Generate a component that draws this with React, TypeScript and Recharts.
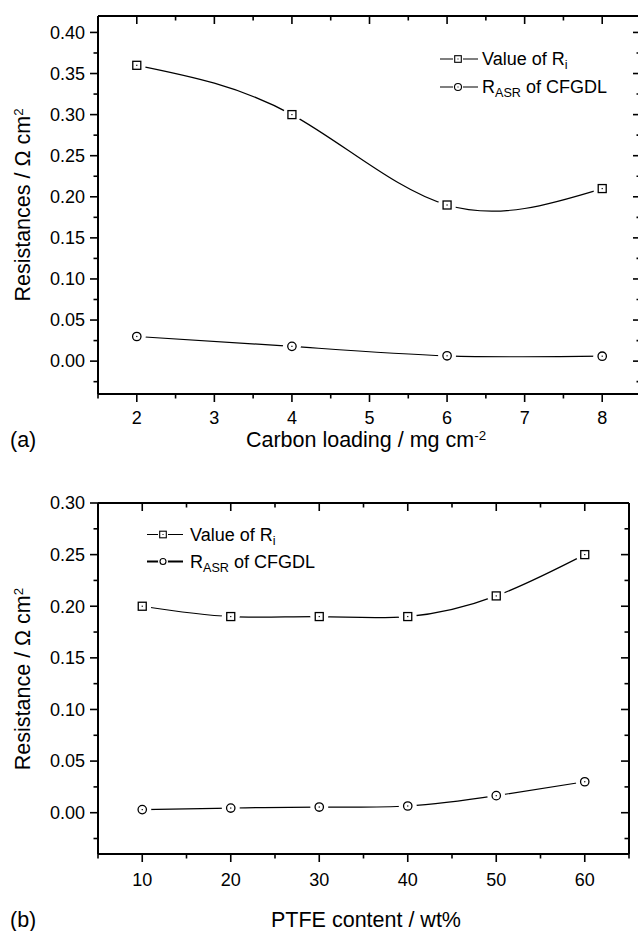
import React from 'react';
import { LineChart, Line, XAxis, YAxis, Legend } from 'recharts';

const FONT = '"Liberation Sans", Arial, Helvetica, sans-serif';

// ---------- (a) carbon loading ----------
const carbonLoading = [2, 4, 6, 8];
const riByLoading = [0.36, 0.3, 0.19, 0.21];
const rasrByLoading = [0.03, 0.018, 0.0065, 0.006];

const loadingTicks = [1.5, 2, 2.5, 3, 3.5, 4, 4.5, 5, 5.5, 6, 6.5, 7, 7.5, 8, 8.5];
const loadingMajor = [2, 3, 4, 5, 6, 7, 8];
const resATicks = [-0.025, 0, 0.025, 0.05, 0.075, 0.1, 0.125, 0.15, 0.175, 0.2, 0.225, 0.25, 0.275, 0.3, 0.325, 0.35, 0.375, 0.4];
const resAMajor = [0, 0.05, 0.1, 0.15, 0.2, 0.25, 0.3, 0.35, 0.4];

// ---------- (b) PTFE content ----------
const ptfeContent = [10, 20, 30, 40, 50, 60];
const riByPtfe = [0.2, 0.19, 0.19, 0.19, 0.21, 0.25];
const rasrByPtfe = [0.003, 0.0045, 0.0055, 0.0065, 0.0165, 0.03];

const ptfeTicks = [5, 10, 15, 20, 25, 30, 35, 40, 45, 50, 55, 60, 65];
const ptfeMajor = [10, 20, 30, 40, 50, 60];
const resBTicks = [-0.025, 0, 0.025, 0.05, 0.075, 0.1, 0.125, 0.15, 0.175, 0.2, 0.225, 0.25, 0.275, 0.3];
const resBMajor = [0, 0.05, 0.1, 0.15, 0.2, 0.25, 0.3];

const dataA = carbonLoading.map((x, i) => ({ x, ri: riByLoading[i], rasr: rasrByLoading[i] }));
const dataB = ptfeContent.map((x, i) => ({ x, ri: riByPtfe[i], rasr: rasrByPtfe[i] }));

type Side = 'bottom' | 'top' | 'left' | 'right';

function makeTick(side: Side, majors: number[], fmt: ((v: number) => string) | null, labelGap = 25) {
  return function Tick(props: any) {
    const { x, y, payload } = props;
    const v = Number(payload.value);
    const isMajor = majors.some((m) => Math.abs(m - v) < 1e-9);
    const len = isMajor ? 8 : 4.5;
    let line: any = null;
    let label: any = null;
    const ts = { fontFamily: FONT, fontSize: 18, fill: '#000' };
    if (side === 'bottom') {
      line = <line x1={x} x2={x} y1={y} y2={y + len} />;
      if (fmt && isMajor)
        label = (
          <text x={x} y={y + labelGap} dy="0.35em" textAnchor="middle" style={ts}>
            {fmt(v)}
          </text>
        );
    } else if (side === 'top') {
      line = <line x1={x} x2={x} y1={y} y2={y + len} />;
    } else if (side === 'left') {
      line = <line x1={x - len} x2={x} y1={y} y2={y} />;
      if (fmt && isMajor)
        label = (
          <text x={x - 13} y={y} dy="0.35em" textAnchor="end" style={ts}>
            {fmt(v)}
          </text>
        );
    } else {
      line = <line x1={x - len} x2={x} y1={y} y2={y} />;
    }
    return (
      <g>
        <g stroke="#000" strokeWidth={1.6}>{line}</g>
        {label}
      </g>
    );
  };
}

const fmtInt = (v: number) => String(Math.round(v));
const fmt2 = (v: number) => v.toFixed(2);

const SquareDot = (props: any) => {
  const { cx, cy } = props;
  if (cx == null || cy == null) return null;
  return (
    <g>
      <circle cx={cx} cy={cy} r={9} fill="#fff" />
      <rect x={cx - 4} y={cy - 4} width={8} height={8} fill="#fff" stroke="#000" strokeWidth={1.3} />
      <rect x={cx - 0.6} y={cy - 0.6} width={1.2} height={1.2} fill="#000" />
    </g>
  );
};

const CircleDot = (props: any) => {
  const { cx, cy } = props;
  if (cx == null || cy == null) return null;
  return (
    <g>
      <circle cx={cx} cy={cy} r={9} fill="#fff" />
      <circle cx={cx} cy={cy} r={4.2} fill="#fff" stroke="#000" strokeWidth={1.3} />
      <rect x={cx - 0.6} y={cy - 0.6} width={1.2} height={1.2} fill="#000" />
    </g>
  );
};

type LegendRow = { shape: 'square' | 'circle'; label: any; bold?: boolean; plainCircle?: boolean };

const subStyle: React.CSSProperties = { fontSize: '0.7em', verticalAlign: '-0.35em', lineHeight: 0, color: '#000' };

const rowsA: LegendRow[] = [
  { shape: 'square', label: <>Value of R<sub style={subStyle}>i</sub></> },
  { shape: 'circle', label: <>R<sub style={subStyle}>ASR</sub> of CFGDL</> },
];
const rowsB: LegendRow[] = [
  { shape: 'square', label: <>Value of R<sub style={subStyle}>i</sub></> },
  { shape: 'circle', bold: true, plainCircle: true, label: <>R<sub style={subStyle}>ASR</sub> of CFGDL</> },
];

function LegendBox({ rows, rowH, lineW, markAt, gap }: { rows: LegendRow[]; rowH: number; lineW: number; markAt: number; gap: number }) {
  return (
    <div style={{ fontFamily: FONT, fontSize: 18, color: '#000' }}>
      {rows.map((r, i) => (
        <div key={i} style={{ display: 'flex', alignItems: 'center', height: rowH, whiteSpace: 'nowrap' }}>
          <svg width={lineW + gap} height={rowH} style={{ display: 'block' }}>
            <line x1={0} x2={lineW} y1={rowH / 2} y2={rowH / 2} stroke="#000" strokeWidth={r.bold ? 2.2 : 1.1} />
            {r.shape === 'square' ? (
              <g>
                <rect x={markAt - 5} y={rowH / 2 - 5} width={10} height={10} fill="#fff" />
                <rect x={markAt - 3.3} y={rowH / 2 - 3.3} width={6.6} height={6.6} fill="#fff" stroke="#000" strokeWidth={1.1} />
                <rect x={markAt - 0.5} y={rowH / 2 - 0.5} width={1} height={1} fill="#000" />
              </g>
            ) : (
              <g>
                <circle cx={markAt} cy={rowH / 2} r={5} fill="#fff" />
                <circle cx={markAt} cy={rowH / 2} r={r.plainCircle ? 3 : 3.5} fill="#fff" stroke="#000" strokeWidth={1.1} />
                {!r.plainCircle && <rect x={markAt - 0.5} y={rowH / 2 - 0.5} width={1} height={1} fill="#000" />}
              </g>
            )}
          </svg>
          <span style={{ lineHeight: 1 }}>{r.label}</span>
        </div>
      ))}
    </div>
  );
}

const titleStyle: React.CSSProperties = {
  position: 'absolute',
  fontFamily: FONT,
  fontSize: 21.5,
  lineHeight: '14px',
  whiteSpace: 'nowrap',
  color: '#000',
};
const yTitleStyle: React.CSSProperties = { ...titleStyle, lineHeight: '21.5px' };
const supStyle: React.CSSProperties = { fontSize: '0.62em', position: 'relative', top: '-0.55em', lineHeight: 0 };

export default function App() {
  return (
    <div style={{ position: 'absolute', left: 0, top: 0, width: 638, height: 931, overflow: 'hidden', background: '#fff' }}>
      {/* Chart (a) */}
      <div style={{ position: 'absolute', left: 0, top: 0 }}>
        <LineChart width={660} height={460} data={dataA} margin={{ top: 16, right: 19, bottom: 26, left: 38 }}>
          <XAxis
            xAxisId="b"
            dataKey="x"
            type="number"
            domain={[1.5, 8.5]}
            ticks={loadingTicks}
            interval={0}
            height={40}
            tickSize={0}
            tickMargin={0}
            tickLine={false}
            axisLine={{ stroke: '#000', strokeWidth: 2 }}
            tick={makeTick('bottom', loadingMajor, fmtInt, 24)}
            allowDataOverflow
          />
          <XAxis
            xAxisId="t"
            dataKey="x"
            type="number"
            orientation="top"
            mirror
            domain={[1.5, 8.5]}
            ticks={loadingTicks}
            interval={0}
            height={10}
            tickSize={0}
            tickMargin={0}
            tickLine={false}
            axisLine={{ stroke: '#000', strokeWidth: 2 }}
            tick={makeTick('top', loadingMajor, null)}
            allowDataOverflow
          />
          <YAxis
            yAxisId="l"
            type="number"
            domain={[-0.04, 0.42]}
            ticks={resATicks}
            interval={0}
            width={60}
            tickSize={0}
            tickMargin={0}
            tickLine={false}
            axisLine={{ stroke: '#000', strokeWidth: 2 }}
            tick={makeTick('left', resAMajor, fmt2)}
            allowDataOverflow
          />
          <YAxis
            yAxisId="r"
            orientation="right"
            mirror
            type="number"
            domain={[-0.04, 0.42]}
            ticks={resATicks}
            interval={0}
            width={10}
            tickSize={0}
            tickMargin={0}
            tickLine={false}
            axisLine={{ stroke: '#000', strokeWidth: 2 }}
            tick={makeTick('right', resAMajor, null)}
            allowDataOverflow
          />
          <Legend
            layout="vertical"
            align="center"
            verticalAlign="middle"
            wrapperStyle={{ left: 440, top: 45, width: 200, height: 56 }}
            content={() => <LegendBox rows={rowsA} rowH={28} lineW={38} markAt={18} gap={4} />}
          />
          <Line
            xAxisId="b"
            yAxisId="l"
            type="natural"
            dataKey="ri"
            name="Value of Ri"
            stroke="#000"
            strokeWidth={1.2}
            dot={<SquareDot />}
            activeDot={false}
            isAnimationActive={false}
          />
          <Line
            xAxisId="b"
            yAxisId="l"
            type="natural"
            dataKey="rasr"
            name="RASR of CFGDL"
            stroke="#000"
            strokeWidth={1.2}
            dot={<CircleDot />}
            activeDot={false}
            isAnimationActive={false}
          />
        </LineChart>
      </div>

      {/* Chart (b) */}
      <div style={{ position: 'absolute', left: 0, top: 460 }}>
        <LineChart width={638} height={471} data={dataB} margin={{ top: 43, right: 9, bottom: 37, left: 38 }}>
          <XAxis
            xAxisId="b"
            dataKey="x"
            type="number"
            domain={[5, 65]}
            ticks={ptfeTicks}
            interval={0}
            height={40}
            tickSize={0}
            tickMargin={0}
            tickLine={false}
            axisLine={{ stroke: '#000', strokeWidth: 2 }}
            tick={makeTick('bottom', ptfeMajor, fmtInt, 26)}
            allowDataOverflow
          />
          <XAxis
            xAxisId="t"
            dataKey="x"
            type="number"
            orientation="top"
            mirror
            domain={[5, 65]}
            ticks={ptfeTicks}
            interval={0}
            height={10}
            tickSize={0}
            tickMargin={0}
            tickLine={false}
            axisLine={{ stroke: '#000', strokeWidth: 2 }}
            tick={makeTick('top', ptfeMajor, null)}
            allowDataOverflow
          />
          <YAxis
            yAxisId="l"
            type="number"
            domain={[-0.04, 0.3]}
            ticks={resBTicks}
            interval={0}
            width={60}
            tickSize={0}
            tickMargin={0}
            tickLine={false}
            axisLine={{ stroke: '#000', strokeWidth: 2 }}
            tick={makeTick('left', resBMajor, fmt2)}
            allowDataOverflow
          />
          <YAxis
            yAxisId="r"
            orientation="right"
            mirror
            type="number"
            domain={[-0.04, 0.3]}
            ticks={resBTicks}
            interval={0}
            width={10}
            tickSize={0}
            tickMargin={0}
            tickLine={false}
            axisLine={{ stroke: '#000', strokeWidth: 2 }}
            tick={makeTick('right', resBMajor, null)}
            allowDataOverflow
          />
          <Legend
            layout="vertical"
            align="center"
            verticalAlign="middle"
            wrapperStyle={{ left: 147, top: 61, width: 220, height: 54 }}
            content={() => <LegendBox rows={rowsB} rowH={27} lineW={36} markAt={16} gap={7} />}
          />
          <Line
            xAxisId="b"
            yAxisId="l"
            type="natural"
            dataKey="ri"
            name="Value of Ri"
            stroke="#000"
            strokeWidth={1.2}
            dot={<SquareDot />}
            activeDot={false}
            isAnimationActive={false}
          />
          <Line
            xAxisId="b"
            yAxisId="l"
            type="natural"
            dataKey="rasr"
            name="RASR of CFGDL"
            stroke="#000"
            strokeWidth={1.2}
            dot={<CircleDot />}
            activeDot={false}
            isAnimationActive={false}
          />
        </LineChart>
      </div>

      {/* Titles */}
      <div style={{ ...titleStyle, left: 10, top: 433 }}>(a)</div>
      <div style={{ ...titleStyle, left: 0, width: 732, textAlign: 'center', top: 433 }}>
        Carbon loading / mg cm<span style={supStyle}>-2</span>
      </div>
      <div style={{ ...yTitleStyle, left: 24, top: 205, transform: 'translate(-50%, -50%) rotate(-90deg)' }}>
        Resistances / Ω cm<span style={supStyle}>2</span>
      </div>

      <div style={{ ...titleStyle, left: 10, top: 913 }}>(b)</div>
      <div style={{ ...titleStyle, left: 0, width: 732, textAlign: 'center', top: 913 }}>PTFE content / wt%</div>
      <div style={{ ...yTitleStyle, left: 24, top: 679, transform: 'translate(-50%, -50%) rotate(-90deg)' }}>
        Resistance / Ω cm<span style={supStyle}>2</span>
      </div>
    </div>
  );
}
